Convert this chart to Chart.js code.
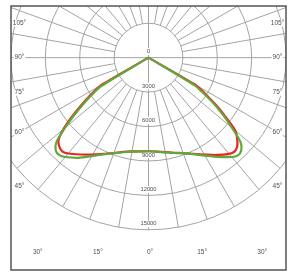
<!DOCTYPE html>
<html>
<head>
<meta charset="utf-8">
<script src="https://cdn.jsdelivr.net/npm/chart.js@4.4.1/dist/chart.umd.min.js"></script>
<style>
  html, body { margin: 0; padding: 0; background: #fff; }
</style>
</head>
<body>
<canvas id="polar" width="296" height="275"></canvas>
<script>
// gamma angles in degrees, negative = left half of the diagram
const gammaAngles = [-90, -61, -60, -59, -57.5, -55, -52.5, -50, -47.5, -45, -42.5, -40, -35, -30, -25, -20, -15, -10, -5,
  0, 5, 10, 15, 20, 25, 30, 35, 40, 42.5, 45, 47.5, 50, 52.5, 55, 57.5, 59, 60, 61, 90]

// intensity (cd) per gamma angle
const redValues = [0, 0, 4600, 5200, 5900, 7100, 8400, 9700, 10650, 11000, 11100, 10900, 10300, 9750, 9250, 8850, 8500, 8300, 8200,
  8150, 8220, 8360, 8580, 8850, 9250, 9750, 10350, 10950, 11100, 10950, 10500, 9900, 8500, 7200, 5900, 5200, 4600, 0, 0]
const greenValues = [0, 0, 0, 4800, 5600, 6800, 8100, 9500, 10900, 11450, 11520, 11300, 10650, 9900, 9300, 8850, 8530, 8320, 8200,
  8150, 8220, 8380, 8600, 8850, 9280, 9850, 10550, 11300, 11550, 11450, 10900, 9500, 8200, 6900, 5500, 4700, 0, 0, 0]

// grid
const ringValues = [3000, 6000, 9000, 12000, 15000]
const ringLabels = ['0', '3000', '6000', '9000', '12000', '15000']
const spokeStep = 10
const sideAngles = [105, 90, 75, 60, 45]
const bottomAngles = [30, 15, 0]

const gridColor = '#a3a3a3'
const textColor = '#4d4d4d'

function toXY(values) {
  return gammaAngles.map((g, i) => {
    const t = g * Math.PI / 180
    return { x: values[i] * Math.sin(t), y: -values[i] * Math.cos(t) }
  })
}

const polarGrid = {
  id: 'polarGrid',
  beforeDatasetsDraw(chart) {
    const { ctx, chartArea: a, scales: { x, y } } = chart
    const cx = x.getPixelForValue(0)
    const cy = y.getPixelForValue(0)
    const rx = v => x.getPixelForValue(v) - cx
    const ry = v => cy - y.getPixelForValue(v)

    ctx.save()
    ctx.beginPath()
    ctx.rect(a.left, a.top, a.right - a.left, a.bottom - a.top)
    ctx.clip()
    ctx.strokeStyle = gridColor
    ctx.lineWidth = 1

    ringValues.forEach(v => {
      ctx.beginPath()
      ctx.ellipse(cx, cy, rx(v), ry(v), 0, 0, Math.PI * 2)
      ctx.stroke()
    })

    const inner = ringValues[0]
    const outer = ringValues[ringValues.length - 1]
    for (let g = 0; g < 360; g += spokeStep) {
      const t = g * Math.PI / 180
      const s = Math.sin(t), c = Math.cos(t)
      const start = g % 90 === 0 ? 0 : inner
      ctx.beginPath()
      ctx.moveTo(cx + rx(start) * s, cy + ry(start) * c)
      ctx.lineTo(cx + rx(outer) * s, cy + ry(outer) * c)
      ctx.stroke()
    }

    // labels
    ctx.textAlign = 'center'
    ctx.textBaseline = 'middle'
    const label = (txt, lx, ly) => {
      const w = ctx.measureText(txt).width
      ctx.fillStyle = '#fff'
      ctx.fillRect(lx - w / 2 - 1, ly - 3.5, w + 2, 7)
      ctx.fillStyle = textColor
      ctx.fillText(txt, lx, ly)
    }

    ctx.font = '5.8px "Liberation Sans", Arial, sans-serif'
    ringLabels.forEach((txt, i) => {
      const v = i * 3000
      label(txt, cx, cy + ry(v) - 6)
    })

    ctx.font = '6.5px "Liberation Sans", Arial, sans-serif'
    // side labels sit where the ray meets a line just inside the frame
    sideAngles.forEach(g => {
      const t = g * Math.PI / 180
      const s = Math.sin(t), c = Math.cos(t)
      const lx = a.left + 8.5
      const dy = (cx - lx) / s * c
      label(g + '°', lx, cy + dy)
      const rxp = a.right - 8.5
      const dyr = (rxp - cx) / s * c
      label(g + '°', rxp, cy + dyr)
    })
    bottomAngles.forEach(g => {
      const t = g * Math.PI / 180
      const ly = a.bottom - 18
      const dx = (ly - cy) * Math.tan(t)
      label(g + '°', cx - dx + 1.5, ly)
      if (g !== 0) label(g + '°', cx + dx + 1.5, ly)
    })
    ctx.restore()
  },
  afterDraw(chart) {
    const { ctx, chartArea: a } = chart
    ctx.save()
    ctx.strokeStyle = '#555'
    ctx.lineWidth = 1.5
    ctx.strokeRect(a.left, a.top, a.right - a.left, a.bottom - a.top)
    ctx.restore()
  }
}

new Chart(document.getElementById('polar'), {
  type: 'scatter',
  data: {
    datasets: [
      {
        label: 'C90-C270',
        data: toXY(greenValues),
        showLine: true,
        borderColor: '#61a83c',
        borderWidth: 2.2,
        tension: 0.3,
        pointRadius: 0
      },
      {
        label: 'C0-C180',
        data: toXY(redValues),
        showLine: true,
        borderColor: '#e8281f',
        borderWidth: 2.2,
        tension: 0.3,
        pointRadius: 0
      }
    ]
  },
  options: {
    responsive: false,
    animation: false,
    layout: { padding: { left: 11, top: 6, right: 10, bottom: 5 } },
    plugins: { legend: { display: false }, tooltip: { enabled: false } },
    scales: {
      x: { type: 'linear', display: false, min: -12000, max: 12000 },
      y: { type: 'linear', display: false, min: -18500, max: 4500 }
    }
  },
  plugins: [polarGrid]
})
</script>
</body>
</html>
